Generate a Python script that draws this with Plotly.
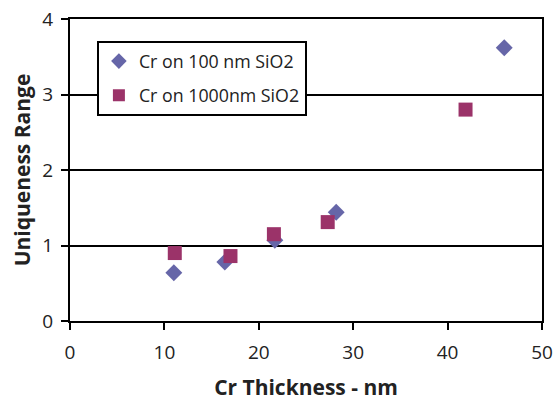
import plotly.graph_objects as go

series1_name = "Cr on 100 nm SiO2"
series1_x = [11.0, 16.4, 21.7, 28.2, 46.0]
series1_y = [0.64, 0.78, 1.07, 1.44, 3.62]

series2_name = "Cr on 1000nm SiO2"
series2_x = [11.1, 17.0, 21.6, 27.3, 41.9]
series2_y = [0.90, 0.86, 1.15, 1.31, 2.80]

x_ticks = [0, 10, 20, 30, 40, 50]
y_ticks = [0, 1, 2, 3, 4]

fig = go.Figure()
fig.add_trace(go.Scatter(x=series1_x, y=series1_y, mode="markers", name=series1_name,
                         legendgroup="a",
                         marker=dict(symbol="diamond", size=13, color="#6666A8")))
fig.add_trace(go.Scatter(x=series2_x, y=series2_y, mode="markers", name=series2_name,
                         legendgroup="b",
                         marker=dict(symbol="square", size=14, color="#9B3369")))

font_family = "Open Sans, Lato, sans-serif"
fig.update_layout(
    width=555, height=401,
    margin=dict(l=70, r=13, t=19, b=80),
    paper_bgcolor="white", plot_bgcolor="white",
    font=dict(family=font_family, color="#222222", size=19),
    showlegend=True,
    legend=dict(x=0.057, y=0.927, xanchor="left", yanchor="top",
                bordercolor="black", borderwidth=2, bgcolor="white",
                font=dict(size=17.8, color="#222222"), itemsizing="constant",
                tracegroupgap=8),
    xaxis=dict(range=[0, 50], tickvals=x_ticks, showgrid=False, zeroline=False,
               showline=True, linecolor="black", linewidth=2, mirror=True,
               ticks="outside", ticklen=7, tickwidth=2, tickcolor="black",
               tickfont=dict(size=19), ticklabelstandoff=6, automargin=False,
               title=dict(text="<b>Cr Thickness - nm</b>", font=dict(size=21), standoff=20)),
    yaxis=dict(range=[0, 4], tickvals=y_ticks, showgrid=True, gridcolor="black", gridwidth=2,
               zeroline=False, showline=True, linecolor="black", linewidth=2, mirror=True,
               ticks="outside", ticklen=7, tickwidth=2, tickcolor="black",
               tickfont=dict(size=19), ticklabelstandoff=4, automargin=False,
               title=dict(text="<b>Uniqueness Range</b>", font=dict(size=21), standoff=6)),
)

fig.write_html("out.html")
